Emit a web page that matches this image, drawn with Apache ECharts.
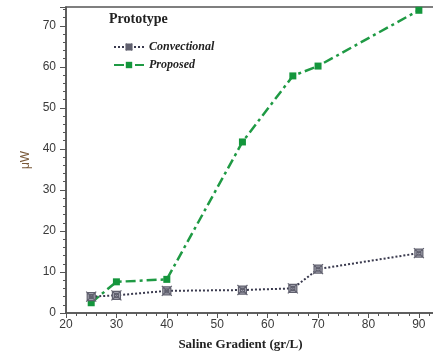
<!DOCTYPE html>
<html>
<head>
<meta charset="utf-8">
<script src="https://cdn.jsdelivr.net/npm/echarts@6/dist/echarts.min.js"></script>
<style>
  html, body { margin: 0; padding: 0; background: #fff; }
  #chart { width: 433px; height: 355px; }
</style>
</head>
<body>
<div id="chart"></div>
<script>
const salineGradient = [25, 30, 40, 55, 65, 70, 90];
const convectional = [4.0, 4.3, 5.4, 5.6, 6.0, 10.7, 14.6];
const proposed = [2.5, 7.6, 8.2, 41.7, 57.8, 60.2, 73.8];

// crossed-box marker
const crossBox = "path://M0,0 L10,10 M10,0 L0,10 M1,1 L9,1 L9,9 L1,9 Z M3,3 L7,3 L7,7 L3,7 Z";

const pairs = (ys) => salineGradient.map((x, i) => [x, ys[i]]);

const chart = echarts.init(document.getElementById("chart"), null, { renderer: "canvas" });

chart.setOption({
  animation: false,
  backgroundColor: "#fff",
  title: {
    text: "Prototype",
    left: 104,
    top: 7,
    textStyle: { fontFamily: "Liberation Serif", fontWeight: "bold", fontSize: 14, color: "#222" }
  },
  legend: {
    left: 108,
    top: 36,
    orient: "vertical",
    itemWidth: 30,
    itemHeight: 8,
    itemGap: 6,
    textStyle: { fontFamily: "Liberation Serif", fontStyle: "italic", fontWeight: "bold", fontSize: 12, color: "#222" },
    data: ["Convectional", "Proposed"]
  },
  grid: {
    left: 66,
    right: -2,
    top: 7,
    bottom: 42,
    outerBoundsMode: "none",
    containLabel: false,
    show: true,
    borderColor: "#555",
    borderWidth: 1.5
  },
  xAxis: {
    type: "value",
    min: 20,
    max: 93.2,
    interval: 10,
    name: "Saline Gradient (gr/L)",
    nameLocation: "middle",
    nameGap: 25,
    nameTextStyle: {
      fontFamily: "Liberation Serif", fontWeight: "bold", fontSize: 13, color: "#222",
      padding: [0, 20, 0, 0]
    },
    axisLine: { lineStyle: { color: "#555", width: 1.5 } },
    axisTick: { inside: false, length: 5, lineStyle: { color: "#555" } },
    minorTick: { show: true, splitNumber: 5, length: 3, lineStyle: { color: "#555" } },
    axisLabel: {
      fontFamily: "Liberation Sans", fontSize: 12, color: "#3a3a3a", margin: 6,
      formatter: (v) => (v <= 90 ? String(v) : "")
    },
    splitLine: { show: false }
  },
  yAxis: {
    type: "value",
    min: 0,
    max: 74.6,
    interval: 10,
    name: "\u03bcW",
    nameLocation: "middle",
    nameGap: 34,
    nameTextStyle: { fontFamily: "Liberation Sans", fontSize: 12, color: "#7a5a3a" },
    axisLine: { lineStyle: { color: "#555", width: 1.5 } },
    axisTick: { inside: false, length: 6, lineStyle: { color: "#555" } },
    minorTick: { show: true, splitNumber: 5, length: 3, lineStyle: { color: "#555" } },
    axisLabel: {
      fontFamily: "Liberation Sans", fontSize: 12, color: "#3a3a3a", margin: 10,
      formatter: (v) => (v <= 70 ? String(v) : "")
    },
    splitLine: { show: false }
  },
  series: [
    {
      name: "Convectional",
      type: "line",
      data: pairs(convectional),
      symbol: crossBox,
      symbolSize: 10,
      itemStyle: { color: "#b0b0bc", borderColor: "#60606e", borderWidth: 1.2 },
      lineStyle: { color: "#3a3a4e", width: 2, type: [2, 2] },
      z: 3
    },
    {
      name: "Proposed",
      type: "line",
      data: pairs(proposed),
      symbol: "rect",
      symbolSize: 7,
      itemStyle: { color: "#14963c" },
      lineStyle: { color: "#1f9a44", width: 2.5, type: [10, 4, 3, 4] },
      z: 2
    }
  ]
});
</script>
</body>
</html>
